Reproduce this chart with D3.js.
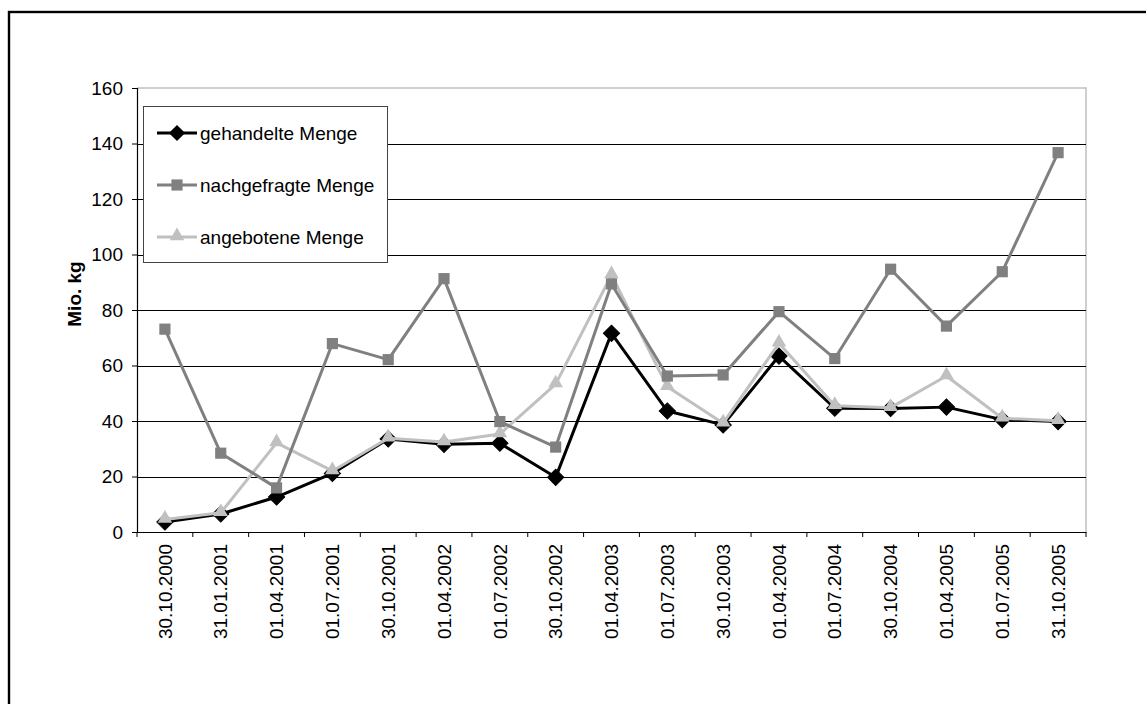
<!DOCTYPE html>
<html lang="de">
<head>
<meta charset="utf-8">
<script src="https://cdn.jsdelivr.net/npm/d3@7"></script>
<style>
  html, body { margin: 0; padding: 0; background: #fff; }
  svg { display: block; font-family: "Liberation Sans", Arial, sans-serif; }
</style>
</head>
<body>
<svg id="chart" width="1146" height="704"></svg>
<script>
// Stichtage (Kategorien der x-Achse)
const dates = [
  "30.10.2000", "31.01.2001", "01.04.2001", "01.07.2001", "30.10.2001",
  "01.04.2002", "01.07.2002", "30.10.2002", "01.04.2003", "01.07.2003",
  "30.10.2003", "01.04.2004", "01.07.2004", "30.10.2004", "01.04.2005",
  "01.07.2005", "31.10.2005"
];

// Mengen in Mio. kg
const gehandelte = [3.6, 6.5, 12.6, 21.1, 33.5, 31.6, 32.0, 19.7, 71.6, 43.6, 38.6, 63.4, 44.6, 44.5, 45.0, 40.5, 39.8];
const nachgefragte = [73.1, 28.4, 15.9, 67.9, 62.1, 91.3, 39.8, 30.6, 89.4, 56.2, 56.6, 79.4, 62.5, 94.7, 74.2, 93.8, 136.7];
const angebotene = [4.5, 6.9, 32.1, 22.0, 33.8, 32.4, 35.3, 53.3, 92.6, 52.3, 39.2, 68.0, 45.5, 44.8, 56.2, 41.0, 40.1];

const yTicks = [0, 20, 40, 60, 80, 100, 120, 140, 160];
const yTitle = "Mio. kg";

const series = [
  { name: "gehandelte Menge", values: gehandelte, color: "#000000", marker: "diamond", order: 0 },
  { name: "nachgefragte Menge", values: nachgefragte, color: "#808080", marker: "square", order: 2 },
  { name: "angebotene Menge", values: angebotene, color: "#c0c0c0", marker: "triangle", order: 1 }
];

const svg = d3.select("#chart");
const W = 1146, H = 704;
const plot = { left: 137, right: 1086, top: 88, bottom: 532 };
const FONT = 19;

// Rahmen des Diagrammbereichs
svg.append("rect")
  .attr("x", 9).attr("y", 12)
  .attr("width", W + 20).attr("height", H + 20)
  .attr("fill", "none").attr("stroke", "#000").attr("stroke-width", 2.4);

const x = d3.scaleBand().domain(dates).range([plot.left, plot.right]).padding(0);
const y = d3.scaleLinear().domain([0, 160]).range([plot.bottom, plot.top]);
const cx = d => x(d) + x.bandwidth() / 2;

// Zeichenfläche: obere und rechte Kante hellgrau
svg.append("path")
  .attr("d", `M${plot.left},${y(160)}H${plot.right}V${y(0)}`)
  .attr("fill", "none").attr("stroke", "#c0c0c0").attr("stroke-width", 1.5);

// Horizontale Gitternetzlinien
svg.append("g")
  .selectAll("line")
  .data(yTicks.filter(t => t > 0 && t < 160))
  .join("line")
  .attr("x1", plot.left).attr("x2", plot.right)
  .attr("y1", d => Math.round(y(d)) + 0.5).attr("y2", d => Math.round(y(d)) + 0.5)
  .attr("stroke", "#000").attr("stroke-width", 1);

// y-Achse
const yAxis = svg.append("g")
  .attr("transform", `translate(${plot.left},0)`)
  .call(d3.axisLeft(y).tickValues(yTicks).tickSize(5).tickPadding(9).tickFormat(d3.format("d")));
yAxis.select(".domain").attr("stroke", "#000").attr("stroke-width", 1.2);
yAxis.selectAll(".tick line").attr("stroke", "#000");
yAxis.selectAll("text").attr("font-size", FONT).attr("fill", "#000")
  .style("font-family", "'Liberation Sans', Arial, sans-serif");

// x-Achse mit Teilstrichen zwischen den Kategorien
const xAxis = svg.append("g")
  .attr("transform", `translate(0,${plot.bottom})`)
  .call(d3.axisBottom(x).tickSize(0).tickPadding(0));
xAxis.select(".domain").attr("stroke", "#000").attr("stroke-width", 1.2);
xAxis.selectAll(".tick text")
  .attr("transform", "rotate(-90)")
  .attr("x", -12).attr("y", 0).attr("dy", "0.35em")
  .style("text-anchor", "end")
  .attr("font-size", FONT).attr("fill", "#000")
  .style("font-family", "'Liberation Sans', Arial, sans-serif");
const bounds = dates.map(d => x(d)).concat([x(dates[dates.length - 1]) + x.bandwidth()]);
xAxis.append("g").selectAll("line")
  .data(bounds)
  .join("line")
  .attr("x1", d => d).attr("x2", d => d)
  .attr("y1", 0).attr("y2", 5)
  .attr("stroke", "#000").attr("stroke-width", 1);

// Achsentitel
svg.append("text")
  .attr("transform", `translate(81,294) rotate(-90)`)
  .attr("text-anchor", "middle")
  .attr("font-size", FONT).attr("font-weight", "bold")
  .text(yTitle);

// Markierungen
function markerPath(type) {
  if (type === "diamond") return d3.symbol().type(d3.symbolSquare).size(132)();
  if (type === "square") return d3.symbol().type(d3.symbolSquare).size(125)();
  return d3.symbol().type(d3.symbolTriangle).size(92)();
}
function markerTransform(type, px, py) {
  if (type === "diamond") return `translate(${px},${py}) rotate(45)`;
  if (type === "triangle") return `translate(${px},${py - 1})`;
  return `translate(${px},${py})`;
}

const line = d3.line().x((d, i) => cx(dates[i])).y(d => y(d));

const drawOrder = series.slice().sort((a, b) => a.order - b.order);
drawOrder.forEach(s => {
  const g = svg.append("g");
  g.append("path")
    .datum(s.values)
    .attr("d", line)
    .attr("fill", "none")
    .attr("stroke", s.color)
    .attr("stroke-width", 3)
    .attr("stroke-linejoin", "round");
  g.selectAll("path.mk")
    .data(s.values)
    .join("path")
    .attr("class", "mk")
    .attr("d", markerPath(s.marker))
    .attr("transform", (d, i) => markerTransform(s.marker, cx(dates[i]), y(d)))
    .attr("fill", s.color)
    .attr("stroke", s.marker === "diamond" ? "#000" : "none");
});

// Legende
const legend = svg.append("g");
legend.append("rect")
  .attr("x", 143.5).attr("y", 106.5)
  .attr("width", 244).attr("height", 156)
  .attr("fill", "#fff").attr("stroke", "#444").attr("stroke-width", 1);
const legendRows = d3.scalePoint().domain(series.map(s => s.name)).range([133, 237]);
series.forEach(s => {
  const ly = legendRows(s.name);
  legend.append("line")
    .attr("x1", 157).attr("x2", 197).attr("y1", ly).attr("y2", ly)
    .attr("stroke", s.color).attr("stroke-width", 3);
  legend.append("path")
    .attr("d", markerPath(s.marker))
    .attr("transform", markerTransform(s.marker, 177, ly))
    .attr("fill", s.color);
  legend.append("text")
    .attr("x", 200).attr("y", ly).attr("dy", "0.35em")
    .attr("font-size", FONT)
    .text(s.name);
});
</script>
</body>
</html>
